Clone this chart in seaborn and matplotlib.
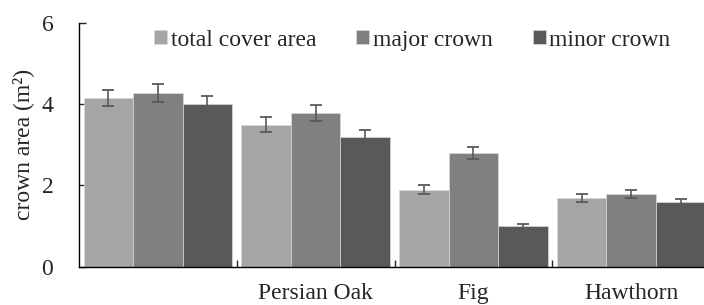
import pandas as pd
import matplotlib
matplotlib.use("Agg")
import matplotlib.pyplot as plt
import seaborn as sns

# values
species = ["", "Persian Oak", "Fig", "Hawthorn"]
series = ["total cover area", "major crown", "minor crown"]
total_cover = [4.15, 3.50, 1.90, 1.70]
major_crown = [4.27, 3.78, 2.80, 1.79]
minor_crown = [4.00, 3.20, 1.00, 1.59]
total_err = [0.20, 0.18, 0.10, 0.10]
major_err = [0.22, 0.20, 0.15, 0.10]
minor_err = [0.20, 0.17, 0.04, 0.08]
colors = ["#a5a5a5", "#808080", "#595959"]
yticks = [0, 2, 4, 6]

sns.set_style("ticks")
plt.rcParams['font.family'] = ['Liberation Serif', 'DejaVu Serif']

df = pd.DataFrame({
    "species": species * 3,
    "series": [s for s in series for _ in species],
    "value": total_cover + major_crown + minor_crown,
})
errs = [total_err, major_err, minor_err]

fig = plt.figure(figsize=(7.04, 3.05), dpi=100)
ax = fig.add_axes([79/704, 38.3/305, 631/704, 243.7/305])

sns.barplot(data=df, x="species", y="value", hue="series", order=species,
            hue_order=series, palette=colors, width=0.94, saturation=1,
            errorbar=None, edgecolor="#d9d9d9", linewidth=0.5, ax=ax)

# error bars on top of each bar
for cont, err in zip(ax.containers, errs):
    xs = [p.get_x() + p.get_width()/2 for p in cont]
    ys = [p.get_height() for p in cont]
    ax.errorbar(xs, ys, yerr=err, fmt='none', ecolor='#595959',
                elinewidth=1.2, capsize=4.3, capthick=1.3)

ax.set_xlim(-0.5, 3.5)
ax.set_ylim(0, 6)
ax.set_yticks(yticks)
ax.tick_params(axis='y', direction='in', length=5, width=1, pad=18.5, labelsize=17)
ax.set_xticks(range(len(species)))
ax.set_xticklabels(species)
ax.tick_params(axis='x', which='major', length=0, pad=12, labelsize=17)
ax.set_xticks([0.5, 1.5, 2.5], minor=True)
ax.tick_params(axis='x', which='minor', direction='in', length=5, width=1)

ax.set_xlabel("")
ax.set_ylabel("crown area (m²)", fontsize=17)
ax.yaxis.set_label_coords(-0.072, 0.5)

sns.despine(ax=ax)
for s in ["left", "bottom"]:
    ax.spines[s].set_linewidth(1)
    ax.spines[s].set_color("black")

handles, labels = ax.get_legend_handles_labels()
ax.legend(handles, labels, ncol=3, loc='center', bbox_to_anchor=(0.528, 0.93),
          frameon=False, fontsize=17, handlelength=0.55, handleheight=0.55,
          handletextpad=0.15, columnspacing=1.7)

fig.savefig("out.png", dpi=100)
